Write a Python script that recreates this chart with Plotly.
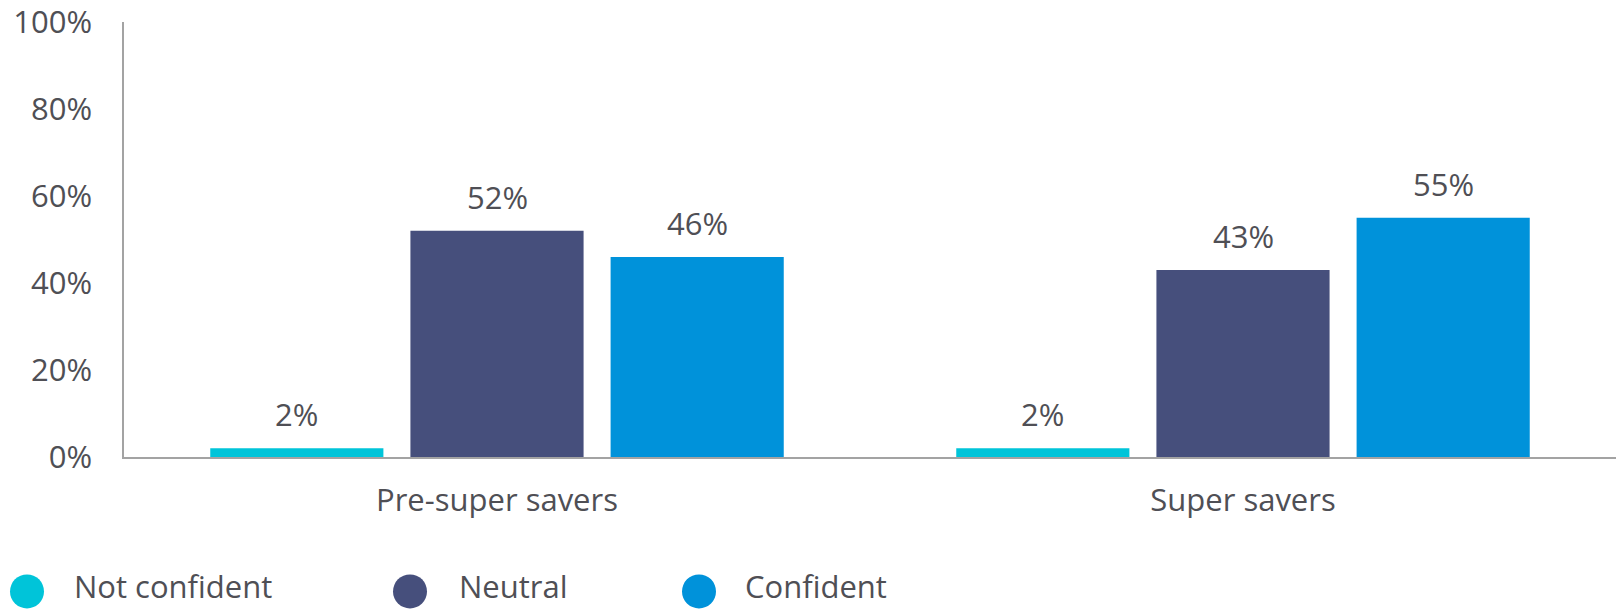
import plotly.graph_objects as go

# Survey responses by saver group
categories = ["Pre-super savers", "Super savers"]
series_names = ["Not confident", "Neutral", "Confident"]
not_confident = [2, 2]
neutral = [52, 43]
confident = [46, 55]
values = [not_confident, neutral, confident]
y_ticks = [0, 20, 40, 60, 80, 100]
y_tick_labels = ["0%", "20%", "40%", "60%", "80%", "100%"]

colors = ["#00c4d9", "#464f7c", "#0092da"]
text_color = "#4f4f55"
axis_color = "#a3a3a3"
font_family = "Open Sans"
font_size = 31

W, H = 1616, 609
M_L, M_R, M_T, M_B = 124, 0, 20, 152
BARGAP = 0.195
GROUPGAP = 0.135

fig = go.Figure()
for name, vals, col in zip(series_names, values, colors):
    fig.add_trace(go.Bar(
        x=categories, y=vals, name=name,
        marker=dict(color=col, line=dict(width=0)),
        showlegend=False,
    ))

# value labels above each bar
slot = (1 - BARGAP) / len(series_names)
for j, vals in enumerate(values):
    off = (j - (len(series_names) - 1) / 2) * slot
    for i, v in enumerate(vals):
        fig.add_annotation(
            x=i + off, y=v, xref="x", yref="y",
            text=f"{v}%", showarrow=False,
            yanchor="bottom", xanchor="center", yshift=11,
            font=dict(family=font_family, size=font_size, color=text_color),
        )

# custom legend below the chart (pixel positions -> paper coordinates)
plot_w = W - M_L - M_R
plot_h = H - M_T - M_B


def px_x(px):
    return (px - M_L) / plot_w


def px_y(py):
    return (H - M_B - py) / plot_h


legend_items = [(27, 73), (410, 458), (699, 744)]
legend_cy = 592
for (cx, tx), name, col in zip(legend_items, series_names, colors):
    fig.add_shape(
        type="circle", xref="paper", yref="paper",
        xsizemode="pixel", ysizemode="pixel",
        xanchor=px_x(cx), yanchor=px_y(legend_cy),
        x0=-17, x1=17, y0=-17, y1=17,
        fillcolor=col, line=dict(width=0),
    )
    fig.add_annotation(
        x=px_x(tx), y=px_y(H), xref="paper", yref="paper",
        text=name, showarrow=False, xanchor="left", yanchor="bottom",
        borderpad=0,
        font=dict(family=font_family, size=font_size, color=text_color),
    )

fig.update_layout(
    width=W, height=H,
    margin=dict(l=M_L, r=M_R, t=M_T, b=M_B, pad=0),
    paper_bgcolor="white", plot_bgcolor="white",
    barmode="group", bargap=BARGAP, bargroupgap=GROUPGAP,
    font=dict(family=font_family, size=font_size, color=text_color),
    xaxis=dict(
        showline=True, linecolor=axis_color, linewidth=1.5,
        showgrid=False, zeroline=False,
        ticks="outside", ticklen=15, tickcolor="rgba(0,0,0,0)",
        tickfont=dict(family=font_family, size=font_size, color=text_color),
    ),
    yaxis=dict(
        range=[0, 100], tickvals=y_ticks, ticktext=y_tick_labels,
        showline=True, linecolor=axis_color, linewidth=1.5,
        showgrid=False, zeroline=False,
        ticks="outside", ticklen=24, tickcolor="rgba(0,0,0,0)",
        ticklabeloverflow="allow",
        tickfont=dict(family=font_family, size=font_size, color=text_color),
    ),
)

fig.write_html("out.html")
